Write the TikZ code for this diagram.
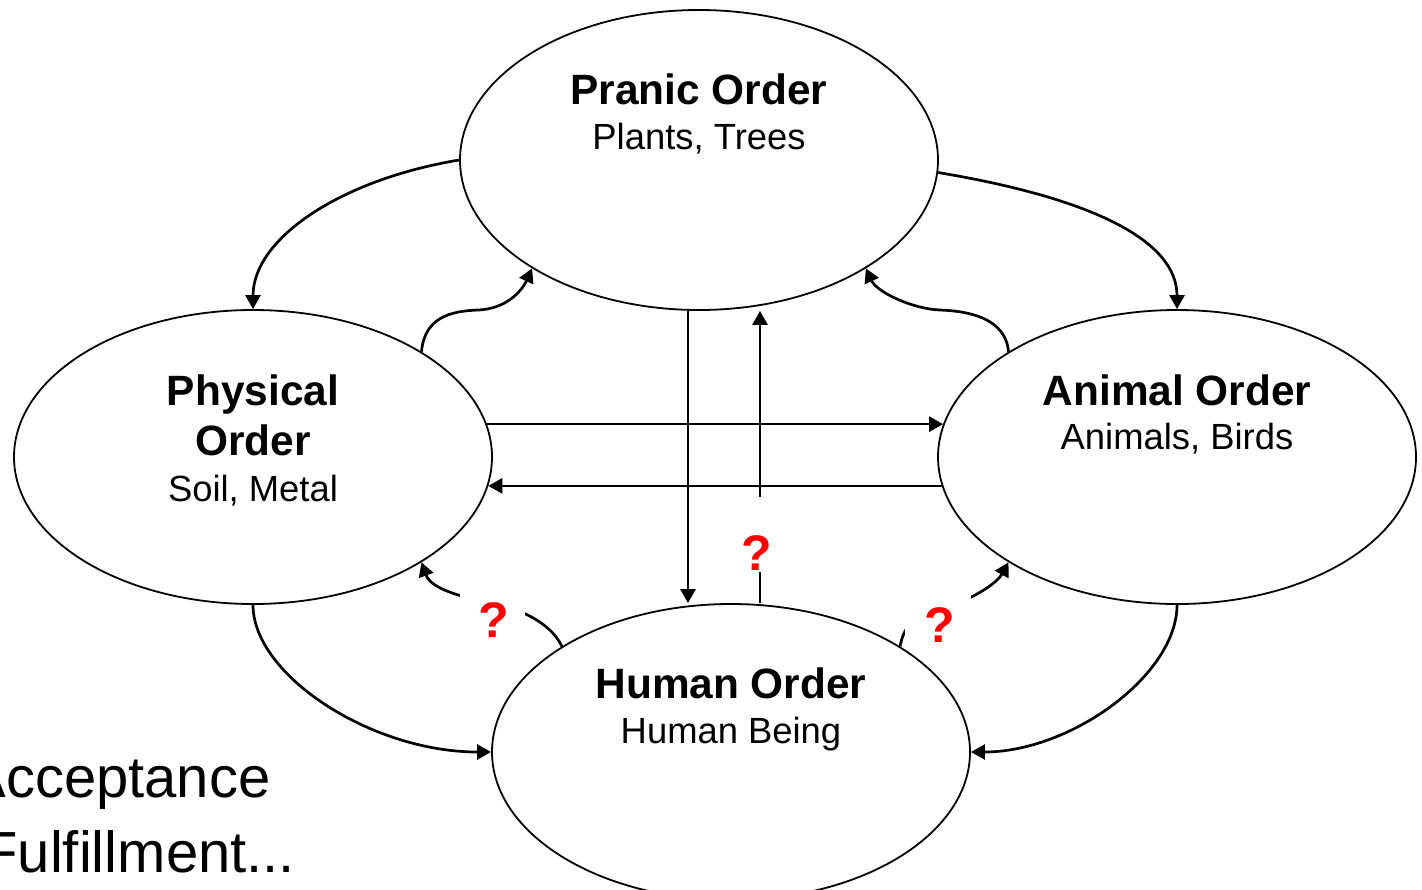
\documentclass[tikz,border=0pt]{standalone}
\usepackage{fontspec}
\setmainfont{Liberation Sans}
\usetikzlibrary{shapes.geometric,arrows.meta}
\begin{document}
\begin{tikzpicture}[x=0.5pt,y=-0.5pt,
  order/.style={draw, ellipse, line width=0.9pt, minimum width=239pt, inner sep=0pt},
  conn/.style={line width=1.35pt, -{Triangle[length=7pt,width=7.5pt]}},
  ttl/.style={font=\fontsize{21.2pt}{24pt}\selectfont\bfseries, anchor=base, inner sep=0pt},
  sub/.style={font=\fontsize{18.2pt}{22pt}\selectfont, anchor=base, inner sep=0pt},
  qm/.style={font=\fontsize{25pt}{28pt}\selectfont\bfseries, text=red, inner sep=0pt},
  big/.style={font=\fontsize{29pt}{34pt}\selectfont, anchor=base west, inner sep=0pt}]
\useasboundingbox (0,0) rectangle (1422,889);
\clip (0,0) rectangle (1422,889);

% ellipses
\node[order, minimum height=150pt] (pranic) at (699,160) {};
\node[order, minimum height=147pt] (phys) at (253,457) {};
\node[order, minimum height=147pt] (anim) at (1177,457) {};
\node[order, minimum height=148pt] (human) at (731,752) {};

% texts
\node[ttl] (t1) at (699,104) {Pranic Order};
\node[sub] (s1) at (699,149) {Plants, Trees};
\node[ttl] (t2a) at (253,405) {Physical};
\node[ttl] (t2b) at (253,455) {Order};
\node[sub] (s2) at (253,501) {Soil, Metal};
\node[ttl] (t3) at (1177,405) {Animal Order};
\node[sub] (s3) at (1177,449) {Animals, Birds};
\node[ttl] (t4) at (731,698) {Human Order};
\node[sub] (s4) at (731,743) {Human Being};

% outer curved connectors
\draw[conn] (pranic.west) .. controls +(-120,20) and +(0,-70) .. (phys.north);
\draw[conn] (pranic.-3) .. controls +(150,25) and +(0,-70) .. (anim.north);
\draw[conn] (phys.south) .. controls +(0,70) and +(-120,0) .. (human.west);
\draw[conn] (anim.south) .. controls +(0,70) and +(100,0) .. (human.east);

% upper S-curves
\coordinate (sl) at (478,310);
\coordinate (sr) at (940,310);
\draw[conn] (phys.32) .. controls +(3,-34) and +(-28,1) .. (sl) .. controls +(27,-1) and +(-11,24) .. (pranic.213);
\draw[conn] (anim.148) .. controls +(-3,-34) and +(28,1) .. (sr) .. controls +(-27,-1) and +(11,24) .. (pranic.-33);

% horizontal connectors
\draw[conn] (phys.8) -- (anim.172);
\draw[conn] (anim.187) -- (phys.-7);

% vertical connectors
\coordinate (x688) at (688,0);
\coordinate (x760) at (760,0);
\draw[conn] (x688 |- pranic.south) -- (x688 |- human.north);
\draw[conn] (x760 |- human.north) -- (x760 |- pranic.south);

% lower S-curves
\coordinate (ml) at (492,603);
\coordinate (mr) at (940,610);
\draw[conn] (human.148) .. controls +(-12,-25) and +(25,5) .. (ml) .. controls +(-25,-5) and +(10,28) .. (phys.-32);
\draw[conn] (human.32) .. controls +(4,-22) and +(-25,6) .. (mr) .. controls +(20,-6) and +(-14,25) .. (anim.212);

% gaps behind question marks
\fill[white] (460,584) rectangle (525,628);
\fill[white] (905,588) rectangle (971,640);
\fill[white] (745,497) rectangle (775,572);

\node[qm] (q1) at (494,620) {?};
\node[qm] (q2) at (757,553) {?};
\node[qm] (q3) at (940,625) {?};

% partly cut text at lower left (cut by the frame, as in the reference)
\node[big] (acc) at (-33,797) {Acceptance};
\node[big] (ful) at (-18,872) {Fulfillment...};
\end{tikzpicture}
\end{document}
